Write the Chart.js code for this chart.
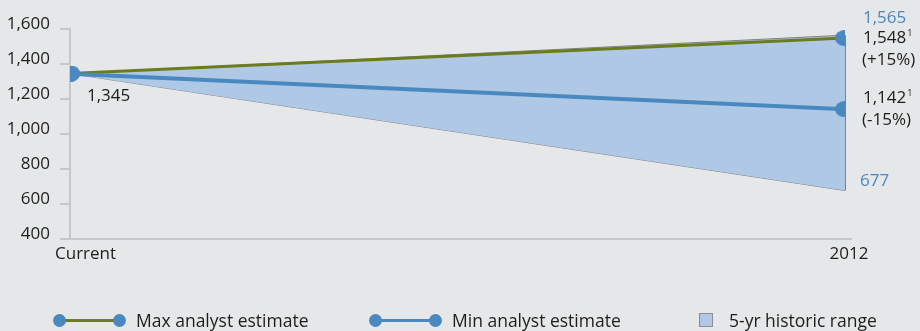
<!DOCTYPE html>
<html>
<head>
<meta charset="utf-8">
<script src="https://cdn.jsdelivr.net/npm/chart.js@4/dist/chart.umd.min.js"></script>
<style>
  html, body { margin: 0; padding: 0; background: #e6e7e9; }
  #wrap { position: relative; width: 920px; height: 331px; }
  canvas { position: absolute; left: 0; top: 0; }
  .lg { position: absolute; font-family: "Open Sans", sans-serif; font-size: 17.5px; color: #1d1d1b; line-height: 20px; }
  .dot { position: absolute; width: 13px; height: 13px; border-radius: 50%; }
  .seg { position: absolute; height: 3px; }
  .box { position: absolute; width: 12px; height: 12px; border: 1px solid #8a8f96; }
</style>
</head>
<body>
<div id="wrap">
  <canvas id="c" width="920" height="331"></canvas>
  <div id="legend"></div>
</div>
<script>
// Categories and series values
const categories = ['Current', '2012'];
const maxEstimate = [1345, 1548];
const minEstimate = [1345, 1142];
const rangeHigh = [1345, 1565];
const rangeLow = [1345, 677];
const yTickValues = [400, 600, 800, 1000, 1200, 1400, 1600];
const seriesNames = ['Max analyst estimate', 'Min analyst estimate', '5-yr historic range'];

const BLUE = '#4a88c0';
const OLIVE = '#6b7b1e';
const FILL = '#aec8e5';
const EDGE = '#7d8186';
const AXIS = '#c6c7c9';
const TEXT = '#1d1d1b';
const FONT = '"Open Sans", sans-serif';
const SIZE = 17;

// Slightly oval marker used for the estimate points
function ovalMarker(w, h, color) {
  const cv = document.createElement('canvas');
  cv.width = w; cv.height = h;
  const g = cv.getContext('2d');
  g.fillStyle = color;
  g.beginPath();
  g.ellipse(w / 2, h / 2, w / 2, h / 2, 0, 0, Math.PI * 2);
  g.fill();
  return cv;
}
const marker = ovalMarker(20, 16, BLUE);

const fmt = v => v.toLocaleString('en-US');

// Value labels, the right edge of the range and the category labels
const annotate = {
  id: 'annotate',
  afterDatasetsDraw(chart) {
    const { ctx, scales: { x, y } } = chart;
    const x1 = x.getPixelForValue(1);
    ctx.save();
    // closing edge of the historic range
    ctx.strokeStyle = EDGE;
    ctx.lineWidth = 1;
    ctx.beginPath();
    ctx.moveTo(x1 + 0.5, y.getPixelForValue(rangeHigh[1]));
    ctx.lineTo(x1 + 0.5, y.getPixelForValue(rangeLow[1]));
    ctx.stroke();
    ctx.restore();
  },
  afterDraw(chart) {
    const { ctx, scales: { x, y } } = chart;
    const x0 = x.getPixelForValue(0);
    const x1 = x.getPixelForValue(1);
    ctx.save();
    ctx.font = SIZE + 'px ' + FONT;
    ctx.textBaseline = 'middle';
    ctx.textAlign = 'left';

    // starting value
    ctx.fillStyle = TEXT;
    ctx.fillText(fmt(maxEstimate[0]), x0 + 17, y.getPixelForValue(maxEstimate[0]) + 23);

    const lx = x1 + 18;
    // range extremes
    ctx.fillStyle = BLUE;
    ctx.fillText(fmt(rangeHigh[1]), lx, y.getPixelForValue(rangeHigh[1]) - 17);
    ctx.fillText(fmt(rangeLow[1]), lx - 3, y.getPixelForValue(rangeLow[1]) - 9);

    // estimates with superscript note and change
    function est(v, base, yy) {
      ctx.fillStyle = TEXT;
      ctx.font = SIZE + 'px ' + FONT;
      const s = fmt(v);
      ctx.fillText(s, lx, yy);
      const w = ctx.measureText(s).width;
      ctx.font = '9px ' + FONT;
      ctx.fillText('1', lx + w + 1, yy - 5);
      ctx.font = SIZE + 'px ' + FONT;
      const pct = Math.round((v / base - 1) * 100);
      ctx.fillText('(' + (pct > 0 ? '+' : '') + pct + '%)', lx - 1, yy + 22);
    }
    est(maxEstimate[1], maxEstimate[0], y.getPixelForValue(maxEstimate[1]));
    est(minEstimate[1], minEstimate[0], y.getPixelForValue(minEstimate[1]) - 11);

    // category labels
    ctx.fillStyle = TEXT;
    ctx.font = SIZE + 'px ' + FONT;
    ctx.textBaseline = 'middle';
    const by = y.getPixelForValue(400) + 15;
    ctx.textAlign = 'left';
    ctx.fillText(categories[0], x0 - 15, by);
    ctx.textAlign = 'center';
    ctx.fillText(categories[1], x1 + 4, by);

    // x axis runs a little past the last category
    ctx.strokeStyle = AXIS;
    ctx.lineWidth = 2;
    ctx.beginPath();
    ctx.moveTo(x1, y.getPixelForValue(400));
    ctx.lineTo(x1 + 7, y.getPixelForValue(400));
    ctx.stroke();
    ctx.restore();
  }
};

const pts = arr => arr.map((v, i) => ({ x: i, y: v }));

new Chart(document.getElementById('c'), {
  type: 'line',
  data: {
    datasets: [
      { label: seriesNames[0], data: pts(maxEstimate), borderColor: OLIVE, borderWidth: 3,
        pointStyle: marker, pointRadius: 9, fill: false, order: 1 },
      { label: seriesNames[1], data: pts(minEstimate), borderColor: BLUE, borderWidth: 4,
        pointStyle: marker, pointRadius: 9, fill: false, order: 0 },
      { label: seriesNames[2], data: pts(rangeHigh), borderColor: EDGE, borderWidth: 1,
        backgroundColor: FILL, pointRadius: 0, fill: '+1', order: 3 },
      { label: 'low', data: pts(rangeLow), borderColor: EDGE, borderWidth: 1,
        pointRadius: 0, fill: false, order: 3 }
    ]
  },
  options: {
    responsive: false,
    animation: false,
    events: [],
    layout: { padding: { left: 0, right: 75, top: 29, bottom: 92 } },
    plugins: { legend: { display: false }, tooltip: { enabled: false } },
    scales: {
      x: {
        type: 'linear', min: 0, max: 1,
        ticks: { display: false },
        grid: { display: false, drawTicks: false },
        border: { display: true, color: AXIS, width: 2 },
        afterFit(s) { s.height = 0; }
      },
      y: {
        min: 400, max: 1600,
        afterBuildTicks(s) { s.ticks = yTickValues.map(v => ({ value: v })); },
        ticks: {
          color: TEXT, font: { family: FONT, size: SIZE }, padding: 10, labelOffset: -5,
          callback: v => fmt(v)
        },
        grid: { drawOnChartArea: false, drawTicks: true, tickLength: 10, color: AXIS, lineWidth: 2 },
        border: { display: true, color: AXIS, width: 2 },
        afterFit(s) { s.width = 70; }
      }
    }
  },
  plugins: [annotate]
});

// Legend row
const legend = document.getElementById('legend');
function add(html) { legend.insertAdjacentHTML('beforeend', html); }
function lineItem(x, color, text) {
  add(`<div class="seg" style="left:${x + 6}px;top:319px;width:60px;background:${color}"></div>`);
  add(`<div class="dot" style="left:${x}px;top:314px;background:${BLUE}"></div>`);
  add(`<div class="dot" style="left:${x + 60}px;top:314px;background:${BLUE}"></div>`);
  add(`<div class="lg" style="left:${x + 83}px;top:310px">${text}</div>`);
}
lineItem(53, OLIVE, seriesNames[0]);
lineItem(369, BLUE, seriesNames[1]);
add(`<div class="box" style="left:699px;top:313px;background:${FILL}"></div>`);
add(`<div class="lg" style="left:729px;top:310px">${seriesNames[2]}</div>`);
</script>
</body>
</html>
